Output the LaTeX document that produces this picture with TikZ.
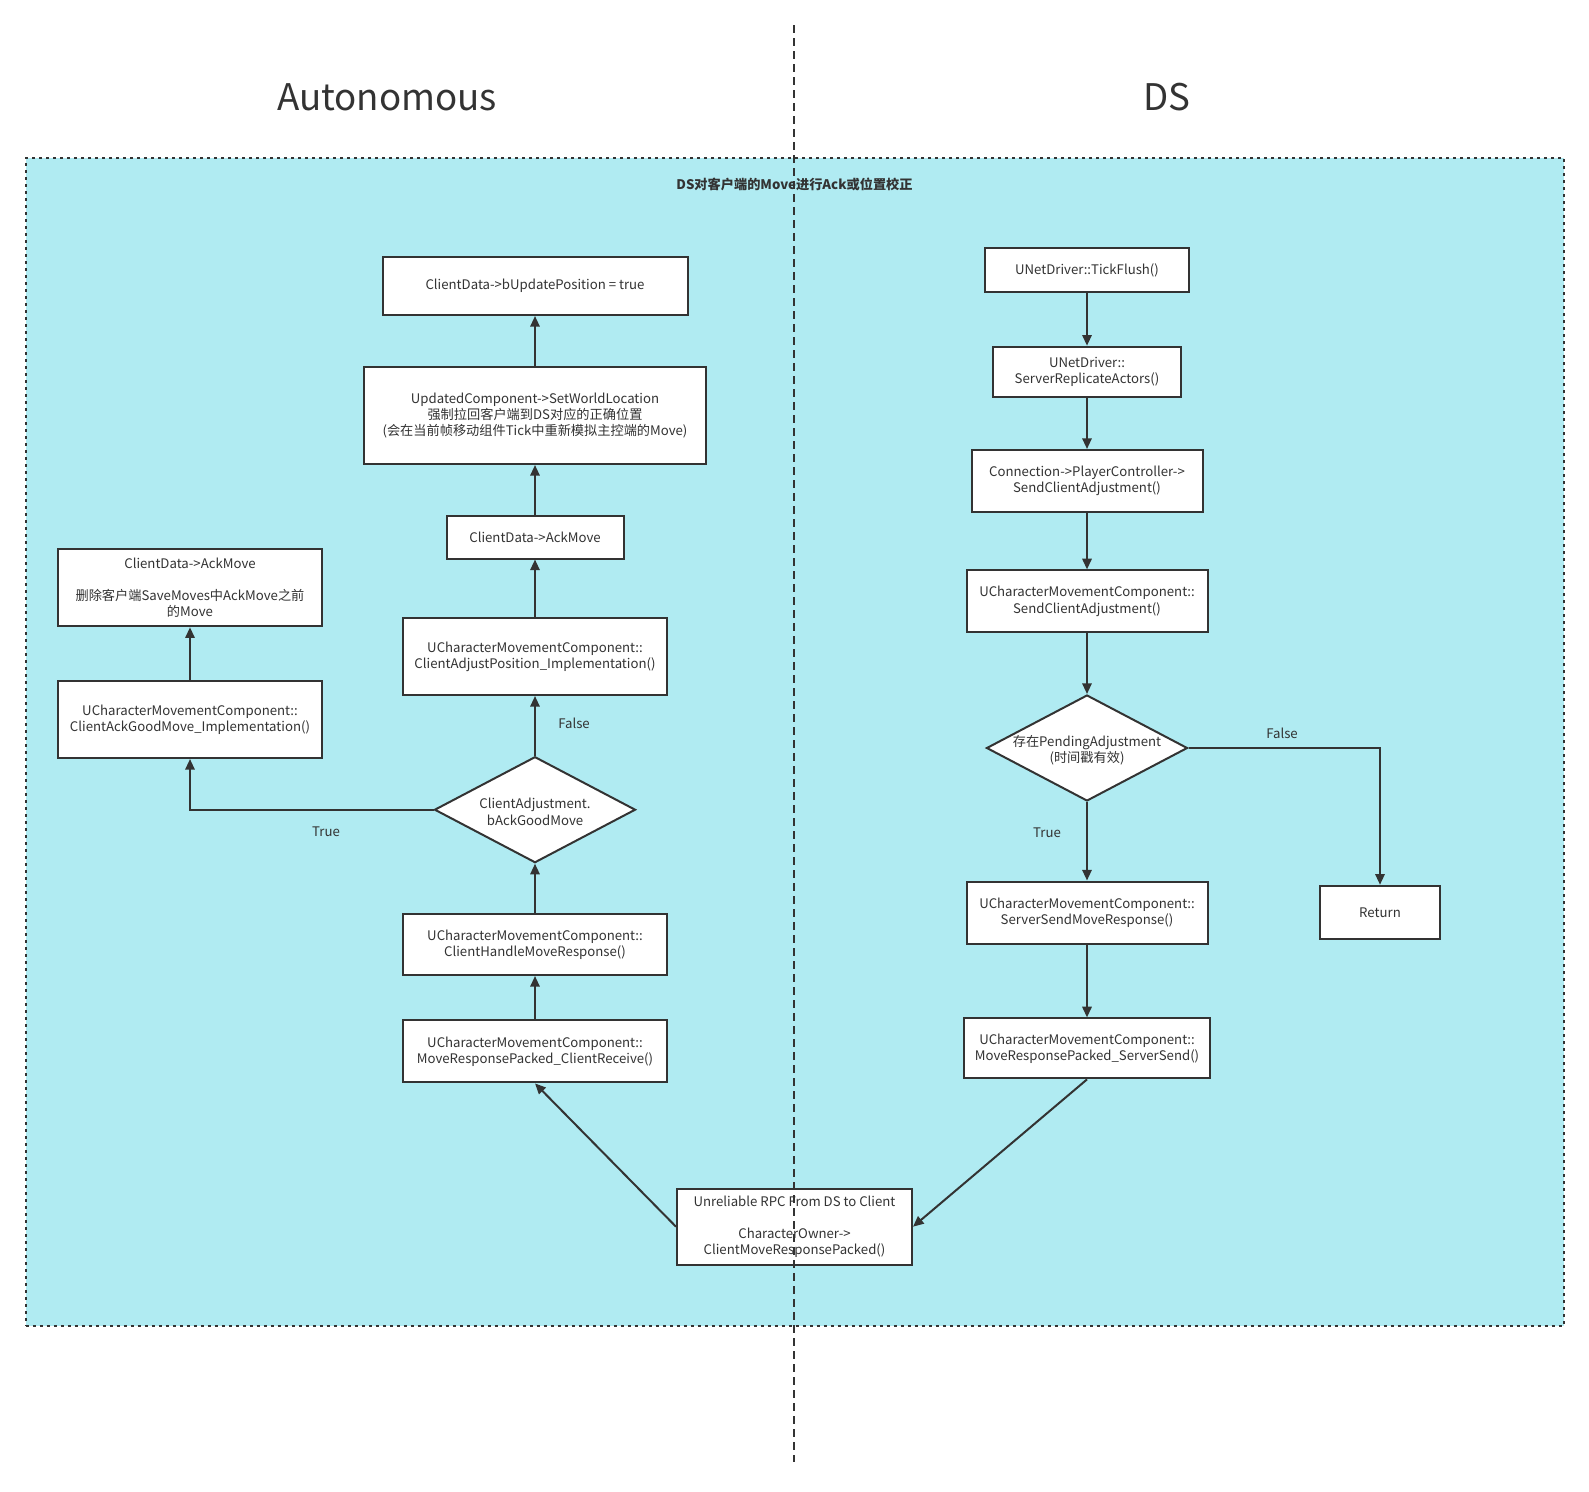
\documentclass[tikz,border=0pt]{standalone}
\usepackage{fontspec}
\setmainfont{Noto Sans CJK SC}
\usetikzlibrary{arrows.meta,shapes.geometric}
\newdimen\pxu \pxu=0.75pt
\definecolor{linec}{HTML}{333333}
\definecolor{panelc}{RGB}{176,235,242}
\tikzset{
  stepbox/.style={draw=linec, line width=1.5pt, fill=white, text=linec, align=center,
    font=\fontsize{9.9}{12.2}\selectfont, inner sep=0pt},
  decision/.style={diamond, draw=linec, line width=1.5pt, fill=white, inner sep=0pt,
    minimum width=201\pxu, minimum height=106\pxu},
  note/.style={text=linec, font=\fontsize{9.9}{12.2}\selectfont},
  flow/.style={draw=linec, line width=1.5pt, -{Triangle[length=8pt,width=7pt]}},
}
\begin{document}
\begin{tikzpicture}[x=0.75pt, y=-0.75pt]
\useasboundingbox (0,0) rectangle (1589,1492);
\fill[white] (0,0) rectangle (1589,1492);

% background panel
\node (panel) [draw=linec, fill=panelc, line width=1.5pt, dash pattern=on 3\pxu off 4\pxu,
  minimum width=1538\pxu, minimum height=1168\pxu, inner sep=0pt] at (794.5,742) {};
\node (paneltitle) [text=linec, font=\bfseries\fontsize{9.9}{11}\selectfont] at (794.5,184)
  {DS对客户端的Move进行Ack或位置校正};
\node (autotitle) [text=linec, font=\fontsize{27.5}{33}\selectfont] at (387,97) {Autonomous};
\node (dstitle) [text=linec, font=\fontsize{27.5}{33}\selectfont] at (1167,97) {DS};

% Autonomous side
\node (upd) [stepbox, minimum width=305\pxu, minimum height=58\pxu] at (535,286)
  {ClientData->bUpdatePosition = true};
\node (setloc) [stepbox, minimum width=342\pxu, minimum height=97\pxu] at (535,415.5)
  {UpdatedComponent->SetWorldLocation\\强制拉回客户端到DS对应的正确位置\\(会在当前帧移动组件Tick中重新模拟主控端的Move)};
\node (ackmid) [stepbox, minimum width=177\pxu, minimum height=43\pxu] at (535,537)
  {ClientData->AckMove};
\node (adjpos) [stepbox, minimum width=263.5\pxu, minimum height=77\pxu] at (535,656.5)
  {UCharacterMovementComponent::\\ClientAdjustPosition\_Implementation()};
\node (goodmove) [decision, label={[note, align=center, yshift=-2\pxu]center:{ClientAdjustment.\\bAckGoodMove}}]
  at (535,809.7) {};
\node (handle) [stepbox, minimum width=263.5\pxu, minimum height=61\pxu] at (535,944.5)
  {UCharacterMovementComponent::\\ClientHandleMoveResponse()};
\node (recv) [stepbox, minimum width=263.5\pxu, minimum height=62\pxu] at (535,1051.4)
  {UCharacterMovementComponent::\\MoveResponsePacked\_ClientReceive()};
\node (ackleft) [stepbox, minimum width=264.5\pxu, minimum height=77\pxu] at (190,587.8)
  {ClientData->AckMove\\[12pt]删除客户端SaveMoves中AckMove之前\\的Move};
\node (ackgood) [stepbox, minimum width=264.5\pxu, minimum height=77\pxu] at (190,719.5)
  {UCharacterMovementComponent::\\ClientAckGoodMove\_Implementation()};
\node (rpc) [stepbox, minimum width=235\pxu, minimum height=76\pxu] at (794.5,1226.7)
  {Unreliable RPC From DS to Client\\[12pt]CharacterOwner->\\ClientMoveResponsePacked()};

% DS side
\node (tick) [stepbox, minimum width=204\pxu, minimum height=43.5\pxu] at (1087,270)
  {UNetDriver::TickFlush()};
\node (repl) [stepbox, minimum width=188.5\pxu, minimum height=50.6\pxu] at (1087,372)
  {UNetDriver::\\ServerReplicateActors()};
\node (conn) [stepbox, minimum width=231\pxu, minimum height=62\pxu] at (1087,481)
  {Connection->PlayerController->\\SendClientAdjustment()};
\node (sendadj) [stepbox, minimum width=241\pxu, minimum height=62\pxu] at (1087,601.4)
  {UCharacterMovementComponent::\\SendClientAdjustment()};
\node (pending) [decision, label={[note, align=center, yshift=-2\pxu]center:{存在PendingAdjustment\\(时间戳有效)}}]
  at (1087,748) {};
\node (ssmr) [stepbox, minimum width=241\pxu, minimum height=62\pxu] at (1087,912.5)
  {UCharacterMovementComponent::\\ServerSendMoveResponse()};
\node (ssend) [stepbox, minimum width=246\pxu, minimum height=60\pxu] at (1087,1048.4)
  {UCharacterMovementComponent::\\MoveResponsePacked\_ServerSend()};
\node (ret) [stepbox, minimum width=120.6\pxu, minimum height=53.7\pxu] at (1380,912.6) {Return};

% branch labels
\node (falseleft) [note] at (574,723.6) {False};
\node (trueleft) [note] at (326,832) {True};
\node (falseright) [note] at (1282,733.7) {False};
\node (trueright) [note] at (1047,833) {True};

% connectors
\draw [flow] (recv) -- (handle);
\draw [flow] (handle) -- (goodmove);
\draw [flow] (goodmove) -- (adjpos);
\draw [flow] (adjpos) -- (ackmid);
\draw [flow] (ackmid) -- (setloc);
\draw [flow] (setloc) -- (upd);
\draw [flow] (goodmove.west) -| (ackgood.south);
\draw [flow] (ackgood) -- (ackleft);

\draw [flow] (tick) -- (repl);
\draw [flow] (repl) -- (conn);
\draw [flow] (conn) -- (sendadj);
\draw [flow] (sendadj) -- (pending);
\draw [flow] (pending) -- (ssmr);
\draw [flow] (ssmr) -- (ssend);
\draw [flow] (pending.east) -| (ret.north);

\draw [flow] (ssend.south) -- (rpc.east);
\draw [flow] (rpc.west) -- (recv.south);

% divider
\coordinate (divtop) at (793.5,25);
\coordinate (divbot) at (793.5,1462);
\draw [linec, line width=1.5pt, dash pattern=on 8\pxu off 5\pxu] (divtop) -- (divbot);
\end{tikzpicture}
\end{document}
